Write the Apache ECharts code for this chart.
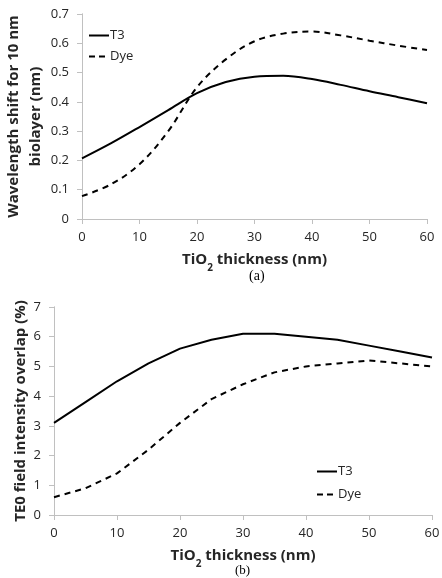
<!DOCTYPE html>
<html>
<head>
<meta charset="utf-8">
<script src="https://cdn.jsdelivr.net/npm/echarts@6/dist/echarts.min.js"></script>
<style>
  html, body { margin: 0; padding: 0; background: #fff; }
  #main { width: 442px; height: 578px; }
</style>
</head>
<body>
<div id="main"></div>
<script>
// thickness values, nm
var thickness = [0, 5, 10, 15, 20, 25, 30, 35, 40, 45, 50, 55, 60];
// (a) wavelength shift for 10 nm biolayer (nm)
var shiftT3 = [0.207, 0.258, 0.314, 0.372, 0.43, 0.468, 0.486, 0.489, 0.478, 0.458, 0.436, 0.416, 0.395];
var shiftDye = [0.078, 0.118, 0.187, 0.3, 0.45, 0.545, 0.607, 0.633, 0.64, 0.627, 0.609, 0.592, 0.577];
// (b) TE0 field intensity overlap (%)
var overlapT3 = [3.1, 3.8, 4.5, 5.1, 5.6, 5.9, 6.1, 6.1, 6.0, 5.9, 5.7, 5.5, 5.3];
var overlapDye = [0.6, 0.9, 1.4, 2.2, 3.1, 3.9, 4.4, 4.8, 5.0, 5.1, 5.2, 5.1, 5.0];

function pairs(ys) {
    return thickness.map(function (x, i) { return [x, ys[i]]; });
}

var font = 'Open Sans';
var axisGrey = '#c0c0c0';
var txt = '#262626';
var solidIcon = 'path://M0,0H20V2H0Z';
var dashIcon = 'path://M0,0H6V2H0Z M10,0H16V2H10Z M20,0H20.01V2H20Z';

var titleRich = {
    rich: {
        sub: { fontSize: 10, fontWeight: 'bold', fontFamily: font, color: txt, verticalAlign: 'bottom', padding: [0, 0, -6, 0] }
    }
};

function xAx(grid, name) {
    return {
        type: 'value', gridIndex: grid, min: 0, max: 60, interval: 10,
        axisLine: { lineStyle: { color: axisGrey } },
        axisTick: { lineStyle: { color: axisGrey }, length: 5 },
        axisLabel: { color: txt, fontSize: 13, fontFamily: font, margin: 12 },
        splitLine: { show: false },
        name: name, nameLocation: 'middle', nameGap: 33, nameMoveOverlap: false,
        nameTextStyle: Object.assign({ color: txt, fontSize: 15, fontWeight: 'bold', fontFamily: font }, titleRich)
    };
}
function xTop(grid) {
    return {
        type: 'value', gridIndex: grid, position: 'top', min: 0, max: 60, interval: 10,
        axisLine: { lineStyle: { color: axisGrey } },
        axisTick: { inside: true, lineStyle: { color: axisGrey }, length: 4 },
        axisLabel: { show: false }, splitLine: { show: false }
    };
}
function yAx(grid, max, interval, name, gap, decimals) {
    return {
        type: 'value', gridIndex: grid, min: 0, max: max, interval: interval,
        axisLine: { show: true, lineStyle: { color: axisGrey } },
        axisTick: { show: true, lineStyle: { color: axisGrey }, length: 5 },
        axisLabel: {
            color: txt, fontSize: 13, fontFamily: font, margin: 13,
            formatter: function (v) { return decimals ? (v === 0 ? '0' : v.toFixed(1)) : String(v); }
        },
        splitLine: { show: false },
        name: name, nameLocation: 'middle', nameGap: gap, nameMoveOverlap: false,
        nameTextStyle: { color: txt, fontSize: 15, fontWeight: 'bold', fontFamily: font, lineHeight: 22 }
    };
}
function yRight(grid, max, interval) {
    return {
        type: 'value', gridIndex: grid, position: 'right', min: 0, max: max, interval: interval,
        axisLine: { show: true, lineStyle: { color: axisGrey } },
        axisTick: { show: true, inside: true, lineStyle: { color: axisGrey }, length: 4 },
        axisLabel: { show: false }, splitLine: { show: false }
    };
}

var chart = echarts.init(document.getElementById('main'));
chart.setOption({
    animation: false,
    backgroundColor: '#fff',
    grid: [
        { left: 82, right: 15, top: 14, height: 205, containLabel: false, outerBoundsMode: 'none' },
        { left: 54, right: 10, top: 307, height: 208, containLabel: false, outerBoundsMode: 'none' }
    ],
    xAxis: [
        xAx(0, 'TiO{sub|2} thickness (nm)'),
        xAx(1, 'TiO{sub|2} thickness (nm)'),
        xTop(0), xTop(1)
    ],
    yAxis: [
        yAx(0, 0.7, 0.1, 'Wavelength shift for 10 nm\nbiolayer (nm)', 35, true),
        yAx(1, 7, 1, 'TE0 field intensity overlap (%)', 22, false),
        yRight(0, 0.7, 0.1), yRight(1, 7, 1)
    ],
    legend: [
        {
            orient: 'vertical', left: 84, top: 24, itemWidth: 20, itemHeight: 2, itemGap: 8,
            data: [{ name: 'T3', icon: solidIcon }, { name: 'Dye', icon: dashIcon }],
            textStyle: { color: txt, fontSize: 13, fontFamily: font, padding: [0, 0, 0, -4] }
        },
        {
            orient: 'vertical', left: 312, top: 460, itemWidth: 20, itemHeight: 2, itemGap: 10,
            data: [{ name: 'T3 ', icon: solidIcon }, { name: 'Dye ', icon: dashIcon }],
            textStyle: { color: txt, fontSize: 13, fontFamily: font, padding: [0, 0, 0, -4] }
        }
    ],
    series: [
        { name: 'T3', type: 'line', xAxisIndex: 0, yAxisIndex: 0, smooth: 0.35, symbol: 'none',
          data: pairs(shiftT3), lineStyle: { color: '#000', width: 2 }, itemStyle: { color: '#000' } },
        { name: 'Dye', type: 'line', xAxisIndex: 0, yAxisIndex: 0, smooth: 0.35, symbol: 'none',
          data: pairs(shiftDye), lineStyle: { color: '#000', width: 2, type: [6, 5] }, itemStyle: { color: '#000' } },
        { name: 'T3 ', type: 'line', xAxisIndex: 1, yAxisIndex: 1, symbol: 'none',
          data: pairs(overlapT3), lineStyle: { color: '#000', width: 2 }, itemStyle: { color: '#000' } },
        { name: 'Dye ', type: 'line', xAxisIndex: 1, yAxisIndex: 1, symbol: 'none',
          data: pairs(overlapDye), lineStyle: { color: '#000', width: 2, type: [6, 5] }, itemStyle: { color: '#000' } }
    ],
    graphic: [
        { type: 'text', left: 249, top: 269, style: { text: '(a)', fontSize: 14, fontFamily: 'Liberation Serif', fill: '#000' } },
        { type: 'text', left: 235, top: 564, style: { text: '(b)', fontSize: 13, fontFamily: 'Liberation Serif', fill: '#000' } }
    ]
});
</script>
</body>
</html>
